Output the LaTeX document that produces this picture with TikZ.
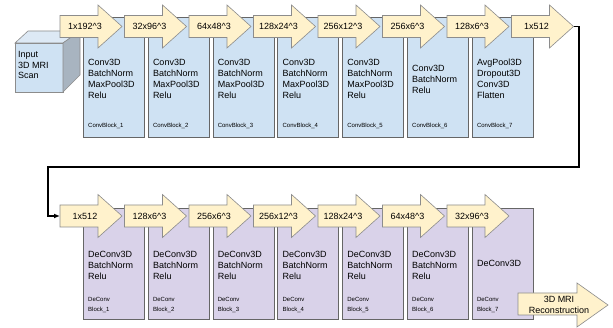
\documentclass[tikz,border=0pt]{standalone}
\usepackage{fontspec}
\setmainfont{Liberation Sans}
\usetikzlibrary{arrows.meta}
\definecolor{blkblue}{HTML}{CFE2F3}
\definecolor{blkpurple}{HTML}{D9D2E9}
\definecolor{arrowyellow}{HTML}{FFF2CC}
\definecolor{bordergray}{HTML}{666666}
\definecolor{arrowgray}{HTML}{8C8C8C}
\definecolor{cubetop}{HTML}{DDE9F5}
\definecolor{cuberight}{HTML}{A8B4C0}
\tikzset{
  blueblk/.style={draw=bordergray, fill=blkblue, line width=0.8pt, anchor=north west,
    minimum width=61pt, minimum height=120pt, inner sep=0pt},
  purpblk/.style={draw=bordergray, fill=blkpurple, line width=0.8pt, anchor=north west,
    minimum width=61pt, minimum height=111pt, inner sep=0pt},
  % anchor = baseline of the LAST line
  ops/.style={anchor=base west, align=left, font=\fontsize{9}{11}\selectfont, inner sep=0pt},
  lbl/.style={anchor=base west, align=left, font=\fontsize{6}{9.5}\selectfont, inner sep=0pt},
  flow/.style={draw=arrowgray, fill=arrowyellow, line width=0.6pt, line join=miter},
  flowtxt/.style={font=\fontsize{9}{11}\selectfont, inner sep=0pt, align=center},
  cubeface/.style={draw=arrowgray, line width=0.6pt, line join=miter},
  fb/.style={line width=1.5pt, -{Latex[length=6pt,width=5pt]}}
}
\newcommand\flowarrow[4]{%
  \pgfmathsetmacro\fxl{#2}%
  \pgfmathsetmacro\fcy{#3}%
  \draw[flow] ({\fxl},{\fcy-11}) -- ({\fxl+38},{\fcy-11}) -- ({\fxl+38},{\fcy-21.5}) -- ({\fxl+62},{\fcy})
    -- ({\fxl+38},{\fcy+21.5}) -- ({\fxl+38},{\fcy+11}) -- ({\fxl},{\fcy+11}) -- cycle;
  \coordinate (#1tip) at ({\fxl+62},{\fcy});
  \coordinate (#1in) at ({\fxl},{\fcy});
  \node[flowtxt] (#1) at ({\fxl+25},{\fcy}) {#4};
}
\begin{document}
\begin{tikzpicture}[x=1pt,y=-1pt]
\useasboundingbox (0,0) rectangle (613,328);
% input cube
\fill[white] (0,0) rectangle (613,328);
\filldraw[cubeface, fill=blkblue] (15,43) rectangle (63,92);
\filldraw[cubeface, fill=cubetop] (15,43) -- (28,31) -- (80,31) -- (63,43) -- cycle;
\filldraw[cubeface, fill=cuberight] (63,43) -- (80,31) -- (80,75) -- (63,92) -- cycle;
\node[ops, font=\fontsize{9}{10.5}\selectfont] (inp) at (18,79) {Input\\3D MRI\\Scan};
% encoder blocks
\foreach \i in {1,...,7} {
  \node[blueblk] (cb\i) at ({83+64.8*(\i-1)},17) {};
  \node[lbl] (cbl\i) at ({88+64.8*(\i-1)},128) {ConvBlock\_\i};
}
\foreach \i in {1,...,5} {
  \node[ops] (cbo\i) at ({88+64.8*(\i-1)},98.5) {Conv3D\\BatchNorm\\MaxPool3D\\Relu};
}
\node[ops] (cbo6) at ({88+64.8*5},94) {Conv3D\\BatchNorm\\Relu};
\node[ops] (cbo7) at ({88+64.8*6},98.5) {AvgPool3D\\Dropout3D\\Conv3D\\Flatten};
% decoder blocks
\foreach \i in {1,...,7} {
  \node[purpblk] (db\i) at ({83+64.8*(\i-1)},208) {};
  \node[lbl] (dbl\i) at ({88+64.8*(\i-1)},311.5) {DeConv\\Block\_\i};
}
\foreach \i in {1,...,6} {
  \node[ops] (dbo\i) at ({88+64.8*(\i-1)},280) {DeConv3D\\BatchNorm\\Relu};
}
\node[ops] (dbo7) at ({88+64.8*6},267) {DeConv3D};
% encoder arrows
\foreach \i/\t in {1/{1x192\textasciicircum3}, 2/{32x96\textasciicircum3}, 3/{64x48\textasciicircum3},
  4/{128x24\textasciicircum3}, 5/{256x12\textasciicircum3}, 6/{256x6\textasciicircum3},
  7/{128x6\textasciicircum3}, 8/{1x512}} {
  \flowarrow{t\i}{60+64.5*(\i-1)}{26.5}{\t}
}
% decoder arrows
\foreach \i/\t in {1/{1x512}, 2/{128x6\textasciicircum3}, 3/{256x6\textasciicircum3},
  4/{256x12\textasciicircum3}, 5/{128x24\textasciicircum3}, 6/{64x48\textasciicircum3},
  7/{32x96\textasciicircum3}} {
  \flowarrow{d\i}{60+64.5*(\i-1)}{216}{\t}
}
% output arrow
\draw[flow] (518,293) -- (577,293) -- (577,283) -- (608,305) -- (577,327) -- (577,315) -- (518,315) -- cycle;
\node[flowtxt] (out) at (559,305) {3D MRI\\Reconstruction};
% feedback connector
\coordinate (fbA) at (579,26.5);
\coordinate (fbB) at (579,167);
\coordinate (fbC) at (48,167);
\coordinate (fbD) at (48,216);
\draw[fb] (t8tip) -- (fbA) -- (fbB) -- (fbC) -- (fbD) -- (d1in);
\end{tikzpicture}
\end{document}
